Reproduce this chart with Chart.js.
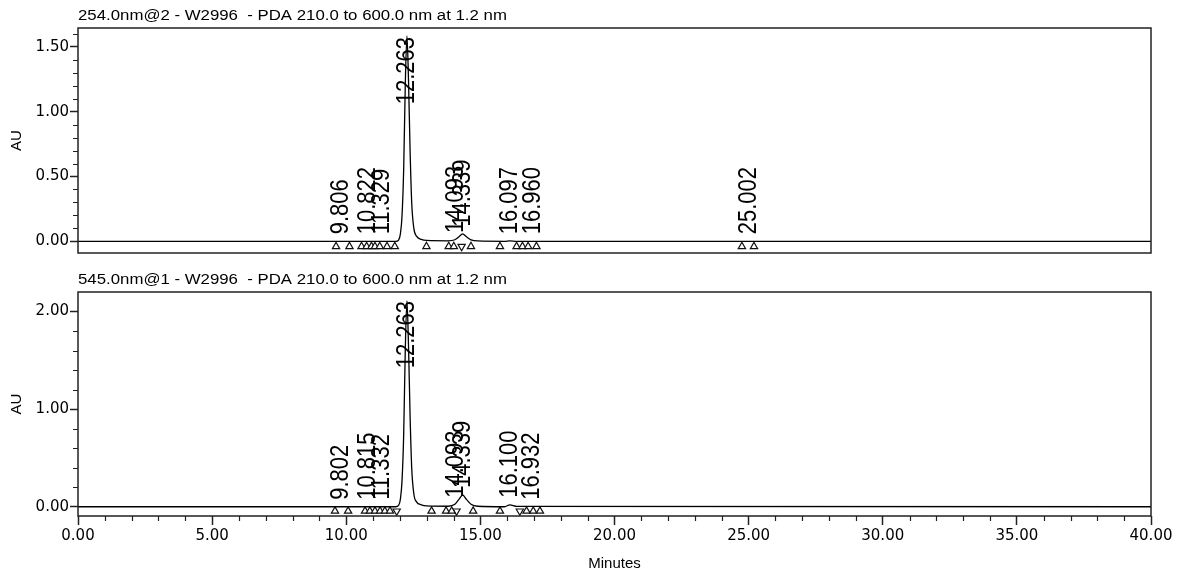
<!DOCTYPE html>
<html>
<head>
<meta charset="utf-8">
<script src="https://cdn.jsdelivr.net/npm/chart.js@4.4.0/dist/chart.umd.min.js"></script>
<style>
  html, body { margin: 0; padding: 0; background: #fff; }
  #wrap { position: relative; width: 1179px; height: 575px; }
  canvas { position: absolute; left: 0; }
</style>
</head>
<body>
<div id="wrap">
  <canvas id="topChart" width="1179" height="262" style="top:0"></canvas>
  <canvas id="bottomChart" width="1179" height="313" style="top:262px"></canvas>
</div>
<script>
// Trace samples (minutes) shared by both channels
const traceTimes = [0, 11.85, 11.95, 12.02, 12.08, 12.14, 12.20, 12.263, 12.32, 12.38, 12.44, 12.52, 12.62, 12.8, 13.0, 13.8, 14.05, 14.2, 14.339, 14.48, 14.65, 14.9, 15.9, 16.1, 16.35, 40];
// 254 nm channel (AU)
const topValues = [0, 0, 0.01, 0.06, 0.2, 0.55, 1.2, 1.585, 1.25, 0.7, 0.3, 0.1, 0.04, 0.015, 0.007, 0.004, 0.012, 0.035, 0.058, 0.035, 0.012, 0.003, 0, 0.004, 0, 0];
// 545 nm channel (AU)
const bottomValues = [0, 0, 0.013, 0.08, 0.27, 0.73, 1.6, 2.11, 1.66, 0.93, 0.4, 0.13, 0.05, 0.02, 0.009, 0.005, 0.025, 0.075, 0.12, 0.075, 0.025, 0.005, 0, 0.02, 0.003, 0];

// integration marks (peak start / end) and valley marks
const topMarks = [9.62, 10.12, 10.57, 10.76, 10.94, 11.07, 11.25, 11.52, 11.81, 12.99, 13.82, 14.01, 14.65, 15.73, 16.35, 16.57, 16.78, 17.09, 24.75, 25.20];
const topValleys = [14.30];
const bottomMarks = [9.58, 10.07, 10.70, 10.88, 11.07, 11.26, 11.44, 11.63, 13.18, 13.72, 13.93, 14.73, 15.73, 16.72, 16.97, 17.22];
const bottomValleys = [11.88, 14.11, 16.47];

// labelled peaks: retention time and apex height
const topPeakTimes = [9.806, 10.822, 11.329, 12.263, 14.093, 14.339, 16.097, 16.960, 25.002];
const topPeakHeights = [0, 0, 0, 1.585, 0.01, 0.058, 0, 0, 0];
const bottomPeakTimes = [9.802, 10.815, 11.332, 12.263, 14.093, 14.339, 16.100, 16.932];
const bottomPeakHeights = [0, 0, 0, 2.11, 0.02, 0.12, 0.02, 0];

// axis ticks
const xTicks = [0, 5, 10, 15, 20, 25, 30, 35, 40];
const topYTicks = [0, 0.5, 1.0, 1.5];
const bottomYTicks = [0, 1.0, 2.0];

Chart.defaults.font.family = '"Liberation Sans", Arial, sans-serif';
Chart.defaults.color = '#000';

const tickFont = { family: '"DejaVu Sans", sans-serif', size: 15 };

// frame, minor ticks, channel title and peak labels
const chromPlugin = {
  id: 'chrom',
  afterDatasetsDraw(chart, args, o) {
    const { ctx, chartArea: a, scales: { x, y } } = chart;
    ctx.save();
    ctx.strokeStyle = '#222';
    ctx.lineWidth = 1.5;
    ctx.strokeRect(a.left, a.top, a.right - a.left, a.bottom - a.top);

    // minor ticks
    ctx.lineWidth = 1.2;
    ctx.beginPath();
    for (let k = 1; k * o.yMinor < y.max - 1e-6; k++) {
      const v = k * o.yMinor;
      if (o.yMajor.some(m => Math.abs(m - v) < 1e-6)) continue;
      const py = Math.round(y.getPixelForValue(v)) + 0.5;
      ctx.moveTo(a.left - 5, py);
      ctx.lineTo(a.left, py);
    }
    if (o.xMinor) {
      for (let k = 1; k < 40; k++) {
        if (k % 5 === 0) continue;
        const px = Math.round(x.getPixelForValue(k)) + 0.5;
        ctx.moveTo(px, a.bottom);
        ctx.lineTo(px, a.bottom + 5);
      }
    }
    ctx.stroke();

    // channel title (the source print is stretched sideways)
    ctx.fillStyle = '#000';
    ctx.font = '14px "Liberation Sans", Arial, sans-serif';
    ctx.textAlign = 'left';
    ctx.textBaseline = 'alphabetic';
    ctx.save();
    ctx.translate(a.left, a.top - 8);
    ctx.scale(1.2, 1);
    ctx.fillText(o.title, 0, 0);
    ctx.restore();

    // retention time labels
    ctx.font = '22px "Liberation Sans", Arial, sans-serif';
    o.peakTimes.forEach((t, i) => {
      const label = t.toFixed(3);
      const w = ctx.measureText(label).width;
      let py = y.getPixelForValue(o.peakHeights[i]) - 7;
      if (py - w < a.top + 9) py = a.top + 9 + w;
      ctx.save();
      ctx.translate(x.getPixelForValue(t), py);
      ctx.scale(1.15, 1);
      ctx.rotate(-Math.PI / 2);
      ctx.textAlign = 'left';
      ctx.textBaseline = 'middle';
      ctx.fillText(label, 0, 0);
      ctx.restore();
    });
    ctx.restore();
  }
};

function markSet(times, level, rotation) {
  return {
    data: times.map(t => ({ x: t, y: level })),
    showLine: false,
    pointStyle: 'triangle',
    pointRadius: 4.2,
    pointRotation: rotation,
    borderColor: '#111',
    backgroundColor: '#fff',
    borderWidth: 1.2
  };
}

function makeChart(id, c) {
  return new Chart(document.getElementById(id), {
    type: 'line',
    data: {
      datasets: [
        {
          data: traceTimes.map((t, i) => ({ x: t, y: c.values[i] })),
          borderColor: '#000',
          borderWidth: 1.3,
          pointRadius: 0,
          cubicInterpolationMode: 'monotone',
          fill: false
        },
        markSet(c.marks, c.markLevel, 0),
        markSet(c.valleys, c.markLevel, 180)
      ]
    },
    options: {
      responsive: false,
      animation: false,
      events: [],
      layout: { padding: c.padding },
      plugins: {
        legend: { display: false },
        tooltip: { enabled: false },
        chrom: {
          title: c.title,
          peakTimes: c.peakTimes,
          peakHeights: c.peakHeights,
          yMajor: c.yTicks,
          yMinor: c.yMinor,
          xMinor: c.showX
        }
      },
      scales: {
        x: {
          type: 'linear',
          min: 0,
          max: 40,
          display: c.showX,
          afterBuildTicks: s => { s.ticks = xTicks.map(v => ({ value: v })); },
          afterFit: s => { s.height = c.showX ? 59 : 0; s.paddingLeft = 0; s.paddingRight = 0; },
          grid: { drawOnChartArea: false, tickLength: 9, tickColor: '#222', tickWidth: 1.5 },
          border: { display: false },
          ticks: { font: tickFont, padding: 2, maxRotation: 0, callback: v => v.toFixed(2) },
          title: { display: true, text: 'Minutes', font: { size: 15 }, padding: { top: 0, bottom: 2 } }
        },
        y: {
          type: 'linear',
          min: c.yMin,
          max: c.yMax,
          afterBuildTicks: s => { s.ticks = c.yTicks.map(v => ({ value: v })); },
          afterFit: s => { s.width = 78; s.paddingTop = 0; s.paddingBottom = 0; },
          grid: { drawOnChartArea: false, tickLength: 8, tickColor: '#222', tickWidth: 1.5 },
          border: { display: false },
          ticks: { font: tickFont, padding: 1, callback: v => v.toFixed(2) },
          title: { display: true, text: 'AU', font: { size: 15 }, padding: { top: 8, bottom: 0 } }
        }
      }
    },
    plugins: [chromPlugin]
  });
}

makeChart('topChart', {
  title: '254.0nm@2 - W2996  - PDA 210.0 to 600.0 nm at 1.2 nm',
  values: topValues,
  marks: topMarks,
  valleys: topValleys,
  markLevel: -0.04,
  peakTimes: topPeakTimes,
  peakHeights: topPeakHeights,
  yTicks: topYTicks,
  yMinor: 0.1,
  yMin: -0.09,
  yMax: 1.646,
  showX: false,
  padding: { left: 0, right: 28, top: 28, bottom: 9 }
});

makeChart('bottomChart', {
  title: '545.0nm@1 - W2996  - PDA 210.0 to 600.0 nm at 1.2 nm',
  values: bottomValues,
  marks: bottomMarks,
  valleys: bottomValleys,
  markLevel: -0.045,
  peakTimes: bottomPeakTimes,
  peakHeights: bottomPeakHeights,
  yTicks: bottomYTicks,
  yMinor: 0.2,
  yMin: -0.095,
  yMax: 2.2,
  showX: true,
  padding: { left: 0, right: 28, top: 30, bottom: 0 }
});
</script>
</body>
</html>
